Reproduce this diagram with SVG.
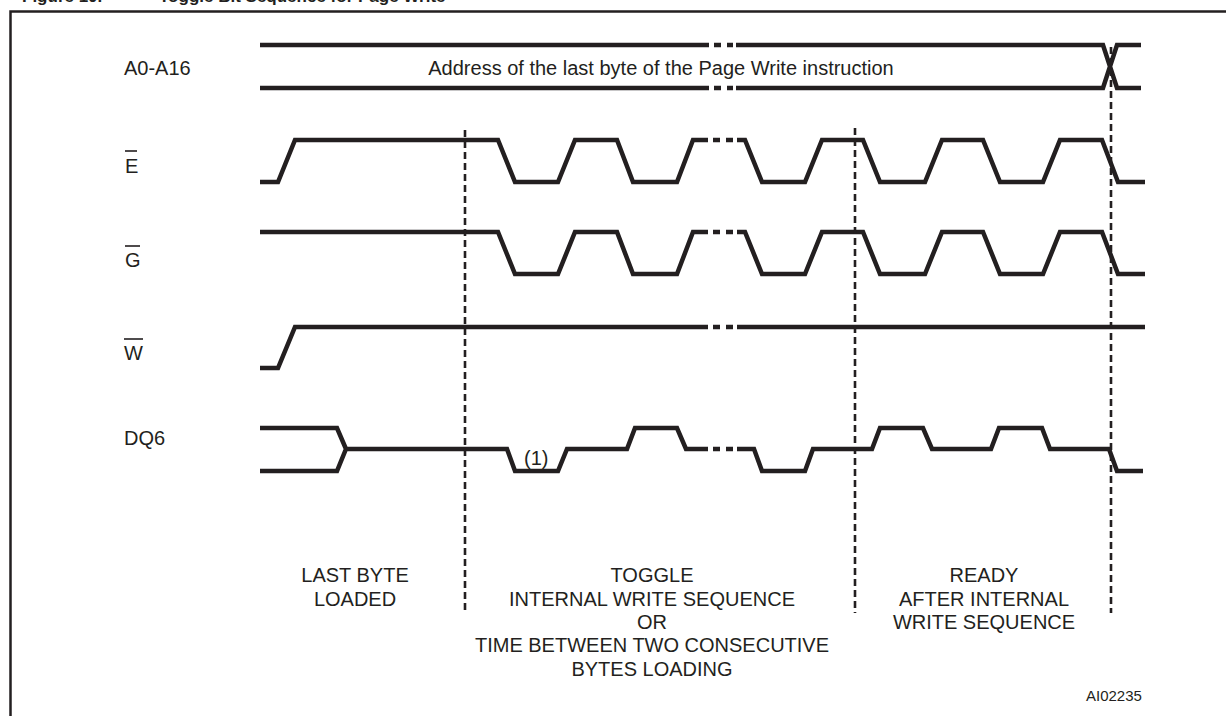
<svg xmlns="http://www.w3.org/2000/svg" width="1228" height="716" viewBox="0 0 1228 716">
<style>
text{font-family:"Liberation Sans",Arial,sans-serif;fill:#231f20;font-size:20px}
.t{text-anchor:middle}
.w{fill:none;stroke:#231f20;stroke-width:4.5;stroke-linejoin:miter;stroke-linecap:butt}
.ob{stroke:#231f20;stroke-width:1.6}
.d{fill:none;stroke:#231f20;stroke-width:2.6;stroke-dasharray:7 4}
</style>
<rect width="1228" height="716" fill="#fff"/>
<text x="22" y="1.5" style="font-weight:bold;font-size:17px">Figure 10.<tspan x="159">Toggle Bit Sequence for Page Write</tspan></text>
<path d="M10.5,716 V11.5 H1226" fill="none" stroke="#231f20" stroke-width="2.5"/>

<g id="addr">
<text x="124" y="75">A0-A16</text>
<path class="w" d="M260,45 H709 M714,45 H721 M727,45 H733 M736,45 H1103 L1117,88 H1141 M260,88 H709 M714,88 H721 M727,88 H733 M736,88 H1103 L1117,45 H1141"/>
<text x="661" y="75" class="t">Address of the last byte of the Page Write instruction</text>
</g>

<g id="E">
<text x="125" y="173">E</text><line class="ob" x1="125" y1="151" x2="137" y2="151"/>
<path class="w" d="M260,182 H278 L295,140 H498 L515,182 H558 L575,140 H617 L633,182 H677 L693,140 H708 M713,140 H720 M726,140 H733 M737,140 H745 L762,182 H805 L822,140 H863 L880,182 H925 L942,140 H983 L1000,182 H1043 L1060,140 H1102 L1118,182 H1145"/>
</g>

<g id="G">
<text x="125" y="267">G</text><line class="ob" x1="125" y1="246" x2="140" y2="246"/>
<path class="w" d="M260,232 H498 L515,274 H558 L575,232 H617 L633,274 H677 L693,232 H708 M713,232 H720 M726,232 H733 M737,232 H745 L762,274 H805 L822,232 H863 L880,274 H925 L942,232 H983 L1000,274 H1043 L1060,232 H1102 L1118,274 H1145"/>
</g>

<g id="W">
<text x="124" y="360">W</text><line class="ob" x1="124" y1="339" x2="143" y2="339"/>
<path class="w" d="M260,368 H278 L295,327 H708 M713,327 H720 M726,327 H733 M737,327 H1145"/>
</g>

<g id="DQ6">
<text x="124" y="445">DQ6</text>
<path class="w" d="M260,428 H337 L346,449 M260,471 H337 L346,449 H507 L515,471 H558 L567,449 H627 L635,428 H677 L686,449 H708 M713,449 H720 M726,449 H733 M737,449 H754 L762,471 H805 L813,449 H872 L880,428 H923 L932,449 H991 L999,428 H1042 L1050,449 H1109 L1117,471 H1143"/>
<text x="524" y="465">(1)</text>
</g>

<g id="connectors">
<line class="d" x1="465" y1="130" x2="465" y2="613"/>
<line class="d" x1="855" y1="128" x2="855" y2="613"/>
<line class="d" x1="1111" y1="47" x2="1111" y2="613"/>
</g>

<g id="phase-last">
<text x="355" y="582" class="t">LAST BYTE</text>
<text x="355" y="605.5" class="t">LOADED</text>
</g>
<g id="phase-toggle">
<text x="652" y="582" class="t">TOGGLE</text>
<text x="652" y="605.5" class="t">INTERNAL WRITE SEQUENCE</text>
<text x="652" y="629" class="t">OR</text>
<text x="652" y="652" class="t">TIME BETWEEN TWO CONSECUTIVE</text>
<text x="652" y="675.5" class="t">BYTES LOADING</text>
</g>
<g id="phase-ready">
<text x="984" y="582" class="t">READY</text>
<text x="984" y="605.5" class="t">AFTER INTERNAL</text>
<text x="984" y="629" class="t">WRITE SEQUENCE</text>
</g>
<text x="1086" y="701" style="font-size:15px">AI02235</text>
</svg>
